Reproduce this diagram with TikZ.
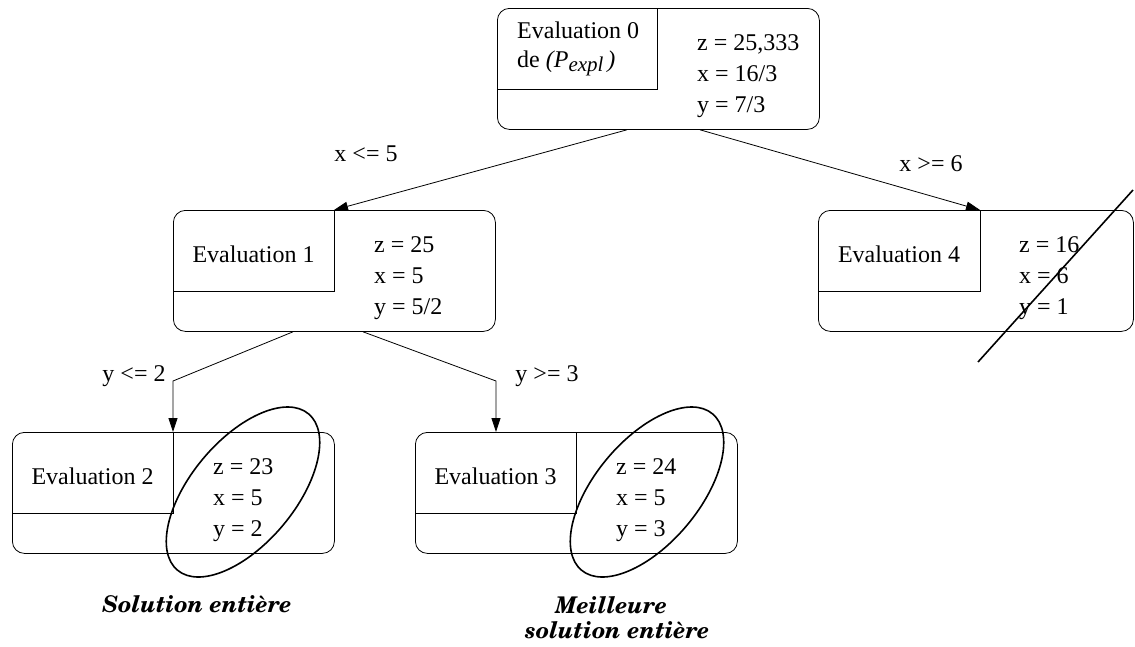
\documentclass[tikz,border=0pt]{standalone}
\usepackage[T1]{fontenc}
\usepackage{fontspec}
\setmainfont{Liberation Serif}
\usetikzlibrary{arrows.meta,calc,shapes.geometric}
\newcommand\solfont{\fontencoding{T1}\fontfamily{pnc}\fontseries{b}\fontshape{it}\fontsize{23}{27}\selectfont}
\tikzset{
  box/.style={draw, rounded corners=12pt, minimum width=322pt, minimum height=121pt,
    anchor=north west, inner sep=0pt, line width=0.8pt},
  innerbox/.style={draw, line width=0.8pt},
  val/.style={anchor=base west, inner sep=0pt},
  ttl/.style={anchor=base, inner sep=0pt},
  lbl/.style={inner sep=0pt},
  arr/.style={draw, line width=0.8pt, -{Triangle[length=14pt,width=9pt]}},
  ell/.style={draw, ellipse, line width=1.6pt, minimum width=204pt, minimum height=104pt, rotate=50, inner sep=0pt},
  sol/.style={anchor=base, inner sep=0pt, font=\solfont},
}
\newcommand\evalbox[9]{%
  \node[box,#8] (#1) at (#2,#3) {};
  \coordinate (#1c) at ($(#1.north west)+(#9,0)$);
  \draw[innerbox] (#1c) -- ++(0,81) -- ($(#1.north west)+(0,81)$);
  \node[ttl] (#1t) at ($(#1.north west)+(#9/2,52)$) {#4};
  \node[val] (#1z) at ($(#1.north west)+(201,42)$) {z = #5};
  \node[val] (#1x) at ($(#1.north west)+(201,73)$) {x = #6};
  \node[val] (#1y) at ($(#1.north west)+(201,104)$) {y = #7};
}
\begin{document}
\begin{tikzpicture}[x=1pt,y=-1pt,font=\fontsize{24}{28}\selectfont]
\useasboundingbox (0,0) rectangle (1135,646);
% box 0
\node[box] (e0) at (497,8) {};
\coordinate (e0c) at ($(e0.north west)+(160,0)$);
\draw[innerbox] (e0c) -- ++(0,81) -- ($(e0.north west)+(0,81)$);
\node[val] (e0t) at ($(e0.north west)+(20,30)$) {Evaluation 0};
\node[val] (e0d) at ($(e0.north west)+(20,59)$) {de \textit{(P\raisebox{-0.4ex}{\fontsize{21}{24}\selectfont expl}\,)}};
\node[val] (e0z) at ($(e0.north west)+(200,42)$) {z = 25,333};
\node[val] (e0x) at ($(e0.north west)+(200,73)$) {x = 16/3};
\node[val] (e0y) at ($(e0.north west)+(200,104)$) {y = 7/3};
% other boxes
\evalbox{e1}{173}{210}{Evaluation 1}{25}{5}{5/2}{}{161}
\evalbox{e4}{818}{210}{Evaluation 4}{16}{6}{1}{minimum width=315pt}{162}
\evalbox{e2}{12}{432}{Evaluation 2}{23}{5}{2}{}{161}
\evalbox{e3}{415}{432}{Evaluation 3}{24}{5}{3}{}{161}
% connectors
\coordinate (b1) at (173,381);
\coordinate (b2) at (496,381);
\draw[arr] ($(e0.south west)+(130,0)$) -- (e1c);
\draw[arr] ($(e0.south west)+(203,0)$) -- (e4c);
\draw[arr] ($(e1.south west)+(120,0)$) -- (b1) -- (e2c);
\draw[arr] ($(e1.south west)+(190,0)$) -- (b2) -- ($(e3.north west)+(81,0)$);
% edge labels
\node[lbl] (l1) at (366,154) {x <= 5};
\node[lbl] (l2) at (931,164) {x >= 6};
\node[lbl] (l3) at (134,376) {y <= 2};
\node[lbl] (l4) at (547,376) {y >= 3};
% ellipses
\node[ell] (s2) at (243,492) {};
\node[ell] (s3) at (647,492) {};
% strike
\coordinate (k1) at (978,362);
\coordinate (k2) at (1133,190);
\draw[line width=1.6pt] (k1) -- (k2);
% solution labels
\node[sol] (n2) at (197,612) {Solution enti\`ere};
\node[sol] (n3a) at (611,613) {Meilleure};
\node[sol] (n3b) at (617,638) {solution enti\`ere};
\end{tikzpicture}
\end{document}
